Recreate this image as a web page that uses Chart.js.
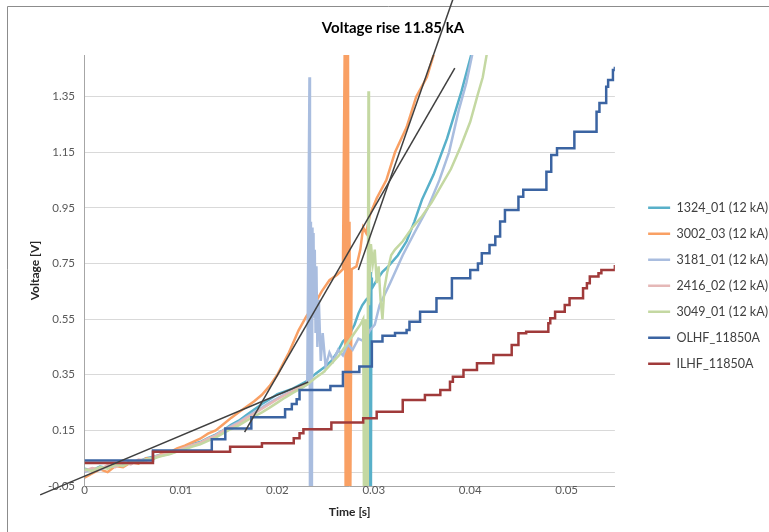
<!DOCTYPE html>
<html>
<head>
<meta charset="utf-8">
<script src="https://cdn.jsdelivr.net/npm/chart.js@4.4.0/dist/chart.umd.min.js"></script>
<style>
  html, body { margin: 0; padding: 0; background: #fff; }
  #wrap { width: 769px; height: 532px; }
</style>
</head>
<body>
<div id="wrap"><canvas id="grafico" width="769" height="532"></canvas></div>
<script>
// nomes das series (legenda)
const nomes = ['1324_01 (12 kA)', '3002_03 (12 kA)', '3181_01 (12 kA)', '2416_02 (12 kA)', '3049_01 (12 kA)', 'OLHF_11850A', 'ILHF_11850A'];
const cores = ['#58b0c9', '#f9a064', '#a9bddf', '#e5b8b7', '#c4d8a2', '#3b64a2', '#a03a3a'];

// eixos
const xTicks = [0, 0.01, 0.02, 0.03, 0.04, 0.05];
const xTickLabels = ['0', '0.01', '0.02', '0.03', '0.04', '0.05'];
const yTicks = [-0.05, 0.15, 0.35, 0.55, 0.75, 0.95, 1.15, 1.35];
const yCross = 0;

// 1324_01
const t1324 = [0, 0.0008, 0.0016, 0.0024, 0.0032, 0.004, 0.0048, 0.0056, 0.0064, 0.0072, 0.008, 0.0088, 0.0096, 0.0104, 0.0112, 0.012, 0.0128, 0.0136, 0.0144, 0.0152, 0.016, 0.0168, 0.0176, 0.0184, 0.0192, 0.02, 0.0208, 0.0216, 0.0224, 0.0232, 0.024, 0.0248, 0.0256, 0.0262, 0.0268, 0.0274, 0.028, 0.0284, 0.0288, 0.0292, 0.0295, 0.02955, 0.0296, 0.02965, 0.0297, 0.02975, 0.0298, 0.0303, 0.0309, 0.0315, 0.0325, 0.0334, 0.0342, 0.035, 0.0362, 0.0376, 0.0391, 0.0401, 0.0406];
const v1324 = [0.012, 0.006, 0.02, 0.015, 0.03, 0.026, 0.04, 0.038, 0.05, 0.055, 0.064, 0.07, 0.08, 0.09, 0.1, 0.108, 0.122, 0.135, 0.15, 0.17, 0.185, 0.205, 0.225, 0.245, 0.262, 0.28, 0.29, 0.3, 0.315, 0.33, 0.355, 0.375, 0.4, 0.43, 0.47, 0.49, 0.53, 0.57, 0.6, 0.62, 0.63, 0.72, -0.1, 0.72, -0.1, 0.7, 0.66, 0.69, 0.72, 0.74, 0.78, 0.83, 0.9, 0.98, 1.07, 1.2, 1.37, 1.5, 1.56];

// 3002_03
const t3002 = [0, 0.0008, 0.0016, 0.0024, 0.0032, 0.004, 0.0048, 0.0056, 0.0064, 0.0072, 0.008, 0.0088, 0.0096, 0.0104, 0.0112, 0.012, 0.0128, 0.0136, 0.0144, 0.0152, 0.016, 0.0168, 0.0176, 0.0184, 0.0192, 0.02, 0.0206, 0.0212, 0.0217, 0.0222, 0.023, 0.0238, 0.0246, 0.0254, 0.0262, 0.0268, 0.027, 0.02708, 0.02716, 0.02724, 0.02732, 0.0274, 0.02748, 0.02756, 0.0277, 0.0282, 0.0286, 0.0289, 0.0292, 0.0296, 0.0303, 0.0313, 0.0322, 0.0334, 0.0344, 0.0355, 0.0362, 0.0366];
const v3002 = [-0.02, -0.005, 0.01, 0.0, 0.022, 0.018, 0.035, 0.03, 0.05, 0.048, 0.065, 0.07, 0.085, 0.095, 0.108, 0.12, 0.138, 0.15, 0.172, 0.195, 0.215, 0.235, 0.255, 0.278, 0.31, 0.35, 0.39, 0.43, 0.47, 0.51, 0.56, 0.6, 0.65, 0.69, 0.71, 0.73, 1.6, -0.1, 1.6, -0.1, 1.6, -0.1, 0.9, -0.1, 0.73, 0.74, 0.8, 0.88, 0.86, 0.925, 0.985, 1.05, 1.15, 1.24, 1.35, 1.42, 1.5, 1.56];

// 3181_01
const t3181 = [0, 0.0008, 0.0016, 0.0024, 0.0032, 0.004, 0.0048, 0.0056, 0.0064, 0.0072, 0.008, 0.0088, 0.0096, 0.0104, 0.0112, 0.012, 0.0128, 0.0136, 0.0144, 0.0152, 0.016, 0.0168, 0.0176, 0.0184, 0.0192, 0.02, 0.0208, 0.0216, 0.0224, 0.0231, 0.02333, 0.02338, 0.02343, 0.02348, 0.02353, 0.02358, 0.02364, 0.0237, 0.02375, 0.0238, 0.02388, 0.02396, 0.02405, 0.02415, 0.0243, 0.0245, 0.0247, 0.025, 0.0254, 0.0258, 0.0263, 0.0268, 0.0273, 0.0278, 0.0284, 0.029, 0.0296, 0.0301, 0.0306, 0.0317, 0.033, 0.0342, 0.0356, 0.0368, 0.0378, 0.0388, 0.0396, 0.0402, 0.0406];
const v3181 = [0.0, 0.012, 0.008, 0.022, 0.02, 0.032, 0.03, 0.042, 0.045, 0.052, 0.06, 0.066, 0.075, 0.085, 0.095, 0.105, 0.118, 0.132, 0.15, 0.165, 0.18, 0.198, 0.215, 0.232, 0.25, 0.265, 0.28, 0.29, 0.3, 0.315, 1.42, -0.1, 0.9, -0.1, 0.85, -0.1, 0.88, 0.62, 0.86, 0.56, 0.8, 0.5, 0.74, 0.45, 0.62, 0.4, 0.5, 0.38, 0.43, 0.4, 0.44, 0.42, 0.46, 0.44, 0.48, 0.47, 0.51, 0.53, 0.6, 0.68, 0.78, 0.86, 0.95, 1.05, 1.15, 1.3, 1.4, 1.5, 1.56];

// 2416_02
const t2416 = [0, 0.0008, 0.0016, 0.0024, 0.0032, 0.004, 0.0048, 0.0056, 0.0064, 0.0072, 0.008, 0.0088, 0.0096, 0.0104, 0.0112, 0.012, 0.0128, 0.0136, 0.0144, 0.0152, 0.016, 0.0168, 0.0176, 0.0184, 0.0192, 0.02, 0.0208, 0.0216, 0.0224, 0.0232];
const v2416 = [0.005, 0.015, 0.01, 0.025, 0.018, 0.035, 0.028, 0.045, 0.042, 0.055, 0.062, 0.068, 0.078, 0.088, 0.098, 0.106, 0.12, 0.132, 0.148, 0.162, 0.176, 0.195, 0.21, 0.228, 0.245, 0.262, 0.278, 0.292, 0.308, 0.322];

// 3049_01
const t3049 = [0, 0.0008, 0.0016, 0.0024, 0.0032, 0.004, 0.0048, 0.0056, 0.0064, 0.0072, 0.008, 0.0088, 0.0096, 0.0104, 0.0112, 0.012, 0.0128, 0.0136, 0.0144, 0.0152, 0.016, 0.0168, 0.0176, 0.0184, 0.0192, 0.02, 0.0208, 0.0216, 0.0224, 0.0232, 0.024, 0.0248, 0.0256, 0.0264, 0.0272, 0.028, 0.0286, 0.0289, 0.02898, 0.02906, 0.02914, 0.02922, 0.0293, 0.02938, 0.02945, 0.0295, 0.0297, 0.0299, 0.0301, 0.0303, 0.0305, 0.0307, 0.0309, 0.0311, 0.0314, 0.0318, 0.0322, 0.033, 0.034, 0.035, 0.036, 0.037, 0.038, 0.039, 0.04, 0.0408, 0.0413, 0.0417, 0.042];
const v3049 = [0.01, 0.004, 0.018, 0.012, 0.026, 0.022, 0.036, 0.034, 0.046, 0.05, 0.058, 0.064, 0.074, 0.082, 0.092, 0.1, 0.112, 0.124, 0.14, 0.155, 0.168, 0.185, 0.2, 0.215, 0.232, 0.25, 0.268, 0.285, 0.3, 0.318, 0.34, 0.36, 0.39, 0.42, 0.46, 0.5, 0.53, 0.55, -0.1, 0.55, -0.1, 0.55, -0.1, 0.5, 1.37, 0.6, 0.82, 0.75, 0.8, 0.68, 0.74, 0.62, 0.55, 0.66, 0.72, 0.78, 0.8, 0.83, 0.88, 0.92, 0.97, 1.03, 1.09, 1.17, 1.26, 1.36, 1.42, 1.5, 1.56];

// OLHF_11850A (degraus)
const tOLHF = [0, 0.0071, 0.0132, 0.0146, 0.0173, 0.0208, 0.0215, 0.022, 0.0223, 0.0255, 0.0268, 0.0285, 0.0298, 0.0309, 0.0322, 0.0334, 0.0337, 0.0348, 0.0365, 0.0381, 0.04, 0.0408, 0.0412, 0.042, 0.0426, 0.0431, 0.0436, 0.045, 0.0455, 0.0479, 0.0484, 0.049, 0.0508, 0.0531, 0.0534, 0.0541, 0.0543, 0.0548, 0.055];
const vOLHF = [0.042, 0.078, 0.118, 0.157, 0.197, 0.226, 0.245, 0.262, 0.295, 0.31, 0.36, 0.38, 0.47, 0.49, 0.5, 0.511, 0.541, 0.577, 0.625, 0.697, 0.727, 0.75, 0.787, 0.817, 0.847, 0.901, 0.943, 0.99, 1.015, 1.08, 1.14, 1.165, 1.224, 1.296, 1.327, 1.386, 1.41, 1.446, 1.458];

// ILHF_11850A (degraus)
const tILHF = [0, 0.0071, 0.0151, 0.0184, 0.0217, 0.0223, 0.0227, 0.0256, 0.0289, 0.0303, 0.033, 0.0353, 0.0369, 0.0379, 0.0382, 0.0393, 0.0407, 0.0424, 0.0443, 0.045, 0.0458, 0.0481, 0.0483, 0.0488, 0.0498, 0.0503, 0.0517, 0.0521, 0.0524, 0.0533, 0.0536, 0.055];
const vILHF = [0.033, 0.073, 0.091, 0.104, 0.122, 0.14, 0.154, 0.178, 0.194, 0.217, 0.259, 0.277, 0.295, 0.325, 0.343, 0.367, 0.391, 0.421, 0.457, 0.499, 0.505, 0.535, 0.553, 0.577, 0.601, 0.625, 0.661, 0.679, 0.703, 0.715, 0.727, 0.745];

// retas tangentes desenhadas por cima
const tRetaA = [-0.0046, 0.0232];
const vRetaA = [-0.082, 0.324];
const tRetaB = [0.0166, 0.0384];
const vRetaB = [0.144, 1.453];
const tRetaC = [0.0284, 0.0382];
const vRetaC = [0.727, 1.70];

const pts = (t, v) => t.map((x, i) => ({ x: x, y: v[i] }));

const series = [
    [t1324, v1324], [t3002, v3002], [t3181, v3181], [t2416, v2416],
    [t3049, v3049], [tOLHF, vOLHF], [tILHF, vILHF]
];

const datasets = series.map((s, i) => ({
    label: nomes[i],
    data: pts(s[0], s[1]),
    borderColor: cores[i],
    backgroundColor: cores[i],
    borderWidth: 2.5,
    pointRadius: 0,
    tension: 0,
    stepped: i >= 5 ? 'before' : false,
    order: 20 - i
}));

[[tRetaA, vRetaA], [tRetaB, vRetaB], [tRetaC, vRetaC]].forEach((r) => {
    datasets.push({
        label: 'tangente',
        data: pts(r[0], r[1]),
        borderColor: '#404040',
        borderWidth: 1.5,
        pointRadius: 0,
        clip: false,
        order: 0
    });
});

const moldura = {
    id: 'moldura',
    beforeDraw(chart) {
        const c = chart.ctx;
        c.save();
        c.fillStyle = '#fff';
        c.fillRect(0, 0, chart.width, chart.height);
        c.strokeStyle = '#8c8c8c';
        c.lineWidth = 1;
        c.beginPath();
        c.moveTo(7.5, chart.height);
        c.lineTo(7.5, 6.5);
        c.lineTo(chart.width, 6.5);
        c.stroke();
        c.restore();
    }
};

Chart.defaults.font.family = 'Lato, "DejaVu Sans", sans-serif';

const ctx = document.getElementById('grafico').getContext('2d');
const grafico = new Chart(ctx, {
    type: 'line',
    data: { datasets: datasets },
    plugins: [moldura],
    options: {
        responsive: false,
        animation: false,
        events: [],
        devicePixelRatio: 1,
        layout: { padding: { left: 8, top: 6, right: -9, bottom: 8 } },
        plugins: {
            title: {
                display: true,
                text: 'Voltage rise 11.85 kA',
                color: '#000',
                font: { size: 15, weight: 'bold' },
                padding: { top: 13, bottom: 18 }
            },
            legend: {
                position: 'right',
                title: {
                    display: true,
                    text: ' ',
                    font: { size: 12 },
                    padding: { top: 13, bottom: 14 }
                },
                labels: {
                    usePointStyle: true,
                    pointStyle: 'line',
                    pointStyleWidth: 22,
                    boxHeight: 12,
                    padding: 13.5,
                    color: '#404040',
                    font: { size: 12.5 },
                    filter: (item) => item.datasetIndex < 7,
                    sort: (a, b) => a.datasetIndex - b.datasetIndex
                }
            },
            tooltip: { enabled: false }
        },
        scales: {
            x: {
                type: 'linear',
                min: 0,
                max: 0.055,
                afterBuildTicks: (s) => { s.ticks = xTicks.map(v => ({ value: v })); },
                afterFit: (s) => { s.height = 38; },
                ticks: {
                    autoSkip: false,
                    maxRotation: 0,
                    padding: -3,
                    color: '#595959',
                    font: { size: 11.5 },
                    callback: (v, i) => xTickLabels[i]
                },
                grid: { display: false, drawTicks: false },
                border: { display: true, color: '#a6a6a6' },
                title: {
                    display: true,
                    text: 'Time [s]',
                    color: '#262626',
                    font: { size: 12, weight: 'bold' },
                    padding: { top: 0, bottom: 4.8 }
                }
            },
            y: {
                type: 'linear',
                min: -0.05,
                max: 1.5,
                afterBuildTicks: (s) => {
                    s.ticks = yTicks.concat([yCross]).sort((a, b) => a - b).map(v => ({ value: v }));
                },
                afterFit: (s) => { s.width = 76.5; },
                ticks: {
                    padding: 9.5,
                    color: '#595959',
                    font: { size: 11.5 },
                    callback: (v) => (v === yCross ? '' : v.toFixed(2))
                },
                grid: { color: '#d9d9d9', drawTicks: false },
                border: { color: '#a6a6a6' },
                title: {
                    display: true,
                    text: 'Voltage [V]',
                    color: '#262626',
                    font: { size: 12, weight: 'bold' },
                    padding: { top: 19.8, bottom: 0 }
                }
            },
            folga: {
                type: 'linear',
                position: 'right',
                display: false,
                afterFit: (s) => { s.width = 19.75; }
            }
        }
    }
});
</script>
</body>
</html>
